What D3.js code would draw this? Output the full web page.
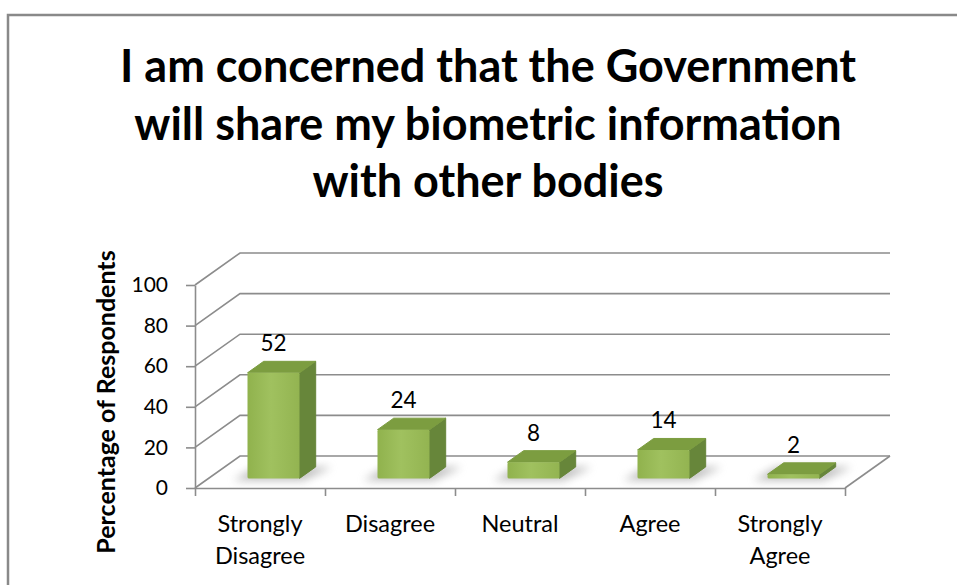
<!DOCTYPE html>
<html>
<head>
<meta charset="utf-8">
<script src="https://cdn.jsdelivr.net/npm/d3@7"></script>
<style>
  html, body { margin: 0; padding: 0; background: #fff; }
  svg { display: block; }
</style>
</head>
<body>
<svg id="chart" width="957" height="585"></svg>
<script>
// Survey responses (percentage of respondents)
const categories = ["Strongly Disagree", "Disagree", "Neutral", "Agree", "Strongly Agree"];
const values = [52, 24, 8, 14, 2];
const yTicks = [0, 20, 40, 60, 80, 100];
const titleLines = [
  "I am concerned that the Government",
  "will share my biometric information",
  "with other bodies"
];
const yTitle = "Percentage of Respondents";

const svg = d3.select("#chart");
const W = 957, H = 585;
const FONT = "Lato, 'Open Sans', sans-serif";

// Plot frame (front edge of the floor) and the 3-D depth offset
const plotLeft = 195, plotRight = 845, plotBottom = 488, plotTop = 285;
const depthX = 45, depthY = -32;
// Bars occupy this slice of the depth
const d0 = 0.3, d1 = 0.66;

const x = d3.scaleBand().domain(categories).range([plotLeft, plotRight])
  .paddingInner(0.6).paddingOuter(0.3);
const xEdge = d3.scaleLinear().domain([0, categories.length]).range([plotLeft, plotRight]);
const y = d3.scaleLinear().domain([0, 100]).range([plotBottom, plotTop]);

// Outer border (top and left edges visible)
svg.append("path")
  .attr("d", `M8,${H} L8,15 L${W},15`)
  .attr("fill", "none").attr("stroke", "#898989").attr("stroke-width", 2.5);

// Title
svg.append("g").selectAll("text").data(titleLines).join("text")
  .attr("x", 488).attr("y", (d, i) => 82 + i * 57.5)
  .attr("text-anchor", "middle")
  .attr("font-family", FONT).attr("font-weight", 700).attr("font-size", 45)
  .attr("fill", "#000").text(d => d);

const defs = svg.append("defs");
defs.append("filter").attr("id", "soft").attr("x", "-50%").attr("y", "-50%")
  .attr("width", "200%").attr("height", "200%")
  .append("feGaussianBlur").attr("stdDeviation", 4);
const gFront = defs.append("linearGradient").attr("id", "front")
  .attr("x1", 0).attr("x2", 1).attr("y1", 0).attr("y2", 0);
gFront.append("stop").attr("offset", 0).attr("stop-color", "#90b24d");
gFront.append("stop").attr("offset", 0.45).attr("stop-color", "#a0c15f");
gFront.append("stop").attr("offset", 1).attr("stop-color", "#93b451");

// Walls: gridlines run up the left wall and across the back wall
const grid = svg.append("g").attr("fill", "none").attr("stroke", "#8c8c8c").attr("stroke-width", 1.6);
grid.selectAll("path").data(yTicks).join("path")
  .attr("d", v => `M${plotLeft},${y(v)} L${plotLeft + depthX},${y(v) + depthY} L${plotRight + depthX},${y(v) + depthY}`);
// Floor: right edge
grid.append("path")
  .attr("d", `M${plotRight},${y(0)} L${plotRight + depthX},${y(0) + depthY}`);

// Y axis
const yAxis = svg.append("g").attr("transform", `translate(${plotLeft},0)`)
  .call(d3.axisLeft(y).tickValues(yTicks).tickSize(9).tickSizeOuter(0).tickPadding(18));
yAxis.select(".domain").attr("stroke", "#8c8c8c").attr("stroke-width", 1.6);
yAxis.selectAll(".tick line").attr("stroke", "#8c8c8c").attr("stroke-width", 1.6);
yAxis.selectAll(".tick text").attr("font-family", FONT).attr("font-size", 21)
  .attr("fill", "#000");

// X axis: ticks at category boundaries
const xAxis = svg.append("g").attr("transform", `translate(0,${plotBottom})`)
  .call(d3.axisBottom(xEdge).tickValues(d3.range(categories.length + 1))
    .tickSize(8).tickSizeOuter(0).tickFormat(""));
xAxis.select(".domain").attr("stroke", "#8c8c8c").attr("stroke-width", 1.6);
xAxis.selectAll(".tick line").attr("stroke", "#8c8c8c").attr("stroke-width", 1.6);

// Category labels, wrapped at spaces
const catG = svg.append("g");
categories.forEach(c => {
  const words = c.split(" ");
  const t = catG.append("text")
    .attr("text-anchor", "middle")
    .attr("font-family", FONT).attr("font-size", 23.5).attr("fill", "#000");
  words.forEach((w, i) => {
    t.append("tspan").attr("x", x(c) + x.bandwidth() / 2).attr("y", 532 + i * 32).text(w);
  });
});

// Y axis title
svg.append("text")
  .attr("transform", `translate(115,402) rotate(-90)`)
  .attr("text-anchor", "middle")
  .attr("font-family", FONT).attr("font-weight", 700).attr("font-size", 25)
  .attr("fill", "#000").text(yTitle);

// Bars as 3-D prisms
const ox0 = depthX * d0, oy0 = depthY * d0, ox1 = depthX * d1, oy1 = depthY * d1;
const bars = svg.append("g");
const data = categories.map((c, i) => ({ c, v: values[i] }));
const poly = pts => "M" + pts.map(p => p.join(",")).join("L") + "Z";

data.forEach(d => {
  const xl = x(d.c), xr = x(d.c) + x.bandwidth();
  const yb = y(0), yt = y(d.v);
  const g = bars.append("g");
  // soft shadow on the floor
  g.append("path")
    .attr("d", poly([
      [xl + ox0 - 14, yb + oy0 + 2], [xr + ox0 + 4, yb + oy0 + 2],
      [xr + ox1 + 16, yb + oy1], [xl + ox1 - 8, yb + oy1]
    ]))
    .attr("fill", "#8a8a8a").attr("opacity", 0.55).attr("filter", "url(#soft)");
  // right side
  g.append("path")
    .attr("d", poly([[xr + ox0, yb + oy0], [xr + ox1, yb + oy1], [xr + ox1, yt + oy1], [xr + ox0, yt + oy0]]))
    .attr("fill", "#67863a").attr("stroke", "#67863a").attr("stroke-width", 1).attr("stroke-linejoin", "round");
  // top
  g.append("path")
    .attr("d", poly([[xl + ox0, yt + oy0], [xr + ox0, yt + oy0], [xr + ox1, yt + oy1], [xl + ox1, yt + oy1]]))
    .attr("fill", "#7c9d40").attr("stroke", "#7c9d40").attr("stroke-width", 1).attr("stroke-linejoin", "round");
  // front
  g.append("rect")
    .attr("x", xl + ox0).attr("y", yt + oy0)
    .attr("width", x.bandwidth()).attr("height", yb - yt)
    .attr("rx", 1.5)
    .attr("fill", "url(#front)");
  // value label
  g.append("text")
    .attr("x", xl + x.bandwidth() / 2 + ox0).attr("y", yt + oy1 - 10)
    .attr("text-anchor", "middle")
    .attr("font-family", FONT).attr("font-size", 22.5).attr("fill", "#000")
    .text(d.v);
});
</script>
</body>
</html>
